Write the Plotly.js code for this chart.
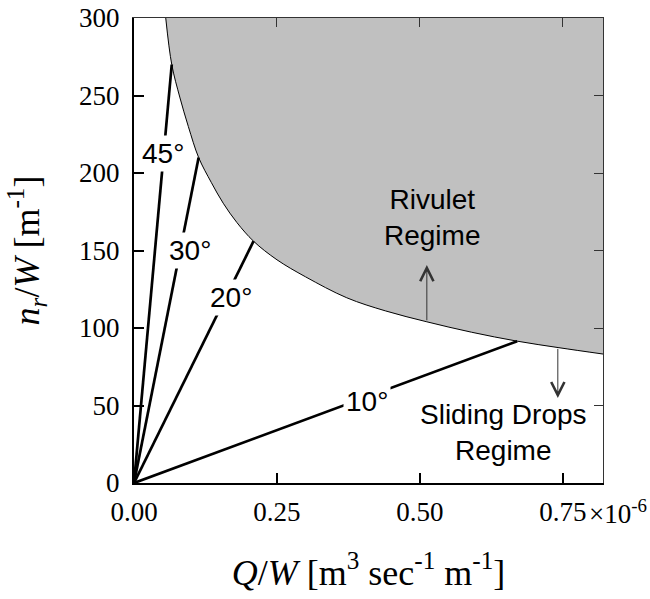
<!DOCTYPE html>
<html>
<head>
<meta charset="utf-8">
<script src="https://cdn.plot.ly/plotly-3.0.1.min.js"></script>
<style>html,body{margin:0;padding:0;background:#fff}</style>
</head>
<body>
<div id="chart" style="width:650px;height:599px"></div>
<script>
// Boundary between regimes: Q/W (units of 1e-6 m^3 s^-1 m^-1) vs n_r/W (m^-1)
var boundaryQ = [0.0555, 0.066, 0.080, 0.095, 0.113, 0.135, 0.156, 0.180, 0.209, 0.250, 0.300, 0.372, 0.440, 0.512, 0.590, 0.670, 0.743, 0.820];
var boundaryN = [300, 270, 249, 230, 210, 194, 180.5, 168, 156, 144, 133, 119.5, 111, 104, 97.3, 91.5, 87.3, 83.2];

// Inclination lines (from origin to the boundary)
var angleLabels = ["45°", "30°", "20°", "10°"];
var angleEndQ = [0.066, 0.113, 0.209, 0.670];
var angleEndN = [270, 210, 156, 91.5];
var angleLabelQ = [0.0508, 0.098, 0.170, 0.408];
var angleLabelN = [212.9, 150.3, 120, 52.3];

// Regime labels and arrows
var regimeLabels = ["Rivulet<br>Regime", "Sliding Drops<br>Regime"];
var regimeLabelQ = [0.5216, 0.646];
var regimeLabelN = [171, 32.9];
var arrowQ = [0.512, 0.741];
var arrowTailN = [104, 87.5];
var arrowHeadN = [140.6, 54.8];

var xRange = [0, 0.82];
var yRange = [0, 300];
var xTicks = [0, 0.25, 0.5, 0.75];
var xTickText = ["0.00", "0.25", "0.50", "0.75"];
var yTicks = [0, 50, 100, 150, 200, 250, 300];

var traces = [];
// top edge for filling the rivulet region
traces.push({
  x: [boundaryQ[0], xRange[1]], y: [yRange[1], yRange[1]],
  mode: 'lines', line: {width: 0, color: 'rgba(0,0,0,0)'}, hoverinfo: 'skip', showlegend: false
});
traces.push({
  x: boundaryQ, y: boundaryN, mode: 'lines', fill: 'tonexty', fillcolor: '#c0c0c0',
  line: {color: '#000', width: 1, shape: 'spline', smoothing: 1}, hoverinfo: 'skip', showlegend: false
});
for (var i = 0; i < angleLabels.length; i++) {
  traces.push({
    x: [0, angleEndQ[i]], y: [0, angleEndN[i]], mode: 'lines',
    line: {color: '#000', width: 2.7}, hoverinfo: 'skip', showlegend: false
  });
}
traces.push({x: [], y: [], xaxis: 'x2', yaxis: 'y2', mode: 'lines', showlegend: false});

var labelFont = {family: 'Liberation Sans, Arial, sans-serif', size: 28, color: '#000'};
var annotations = [];
for (var i = 0; i < angleLabels.length; i++) {
  annotations.push({
    x: angleLabelQ[i], y: angleLabelN[i], xref: 'x', yref: 'y', text: angleLabels[i],
    showarrow: false, bgcolor: '#fff', borderpad: 2, font: labelFont
  });
}
for (var i = 0; i < regimeLabels.length; i++) {
  annotations.push({
    x: regimeLabelQ[i], y: regimeLabelN[i], xref: 'x', yref: 'y', text: regimeLabels[i],
    showarrow: false, font: labelFont
  });
}
for (var i = 0; i < arrowQ.length; i++) {
  annotations.push({
    x: arrowQ[i], y: arrowHeadN[i], ax: arrowQ[i], ay: arrowTailN[i],
    xref: 'x', yref: 'y', axref: 'x', ayref: 'y', text: '',
    showarrow: true, arrowhead: 5, arrowsize: 2.6, arrowwidth: 1, arrowcolor: '#333'
  });
}
annotations.push({
  x: 0.966, y: -0.062, xref: 'paper', yref: 'paper', xanchor: 'left', yanchor: 'middle',
  text: '×10<sup>-6</sup>', showarrow: false,
  font: {family: 'Liberation Serif, Times New Roman, serif', size: 27, color: '#000'}
});

var tickFont = {family: 'Liberation Serif, Times New Roman, serif', size: 27, color: '#000'};
var titleFont = {family: 'Liberation Serif, Times New Roman, serif', size: 36, color: '#000'};

var layout = {
  width: 650, height: 599,
  margin: {l: 134, r: 47, t: 18, b: 116},
  paper_bgcolor: '#fff', plot_bgcolor: '#fff',
  showlegend: false,
  xaxis: {
    range: xRange, tickvals: xTicks, ticktext: xTickText,
    ticks: 'inside', ticklen: 10, tickwidth: 2, tickcolor: '#000',
    showline: true, linewidth: 2, linecolor: '#000', mirror: false,
    showgrid: false, zeroline: false, tickfont: tickFont, ticklabelstandoff: 4,
    title: {text: '<i>Q</i>/<i>W</i> [m<sup>3</sup> sec<sup>-1</sup> m<sup>-1</sup>]', font: titleFont, standoff: 33}
  },
  yaxis: {
    range: yRange, tickvals: yTicks,
    ticks: 'inside', ticklen: 10, tickwidth: 2, tickcolor: '#000',
    showline: true, linewidth: 2, linecolor: '#000', mirror: false,
    showgrid: false, zeroline: false, tickfont: tickFont, ticklabelstandoff: 7,
    title: {text: '<i>n<sub>r</sub></i>/<i>W</i> [m<sup>-1</sup>]', font: titleFont, standoff: 28}
  },
  xaxis2: {
    range: xRange, overlaying: 'x', side: 'top', anchor: 'y', tickvals: xTicks,
    ticks: 'inside', ticklen: 9, tickwidth: 1, tickcolor: '#333',
    showline: true, linewidth: 1, linecolor: '#333', showticklabels: false,
    showgrid: false, zeroline: false
  },
  yaxis2: {
    range: yRange, overlaying: 'y', side: 'right', anchor: 'x', tickvals: yTicks,
    ticks: 'inside', ticklen: 9, tickwidth: 1, tickcolor: '#333',
    showline: true, linewidth: 1, linecolor: '#333', showticklabels: false,
    showgrid: false, zeroline: false
  },
  annotations: annotations
};

Plotly.newPlot('chart', traces, layout, {displayModeBar: false, staticPlot: true});
</script>
</body>
</html>
